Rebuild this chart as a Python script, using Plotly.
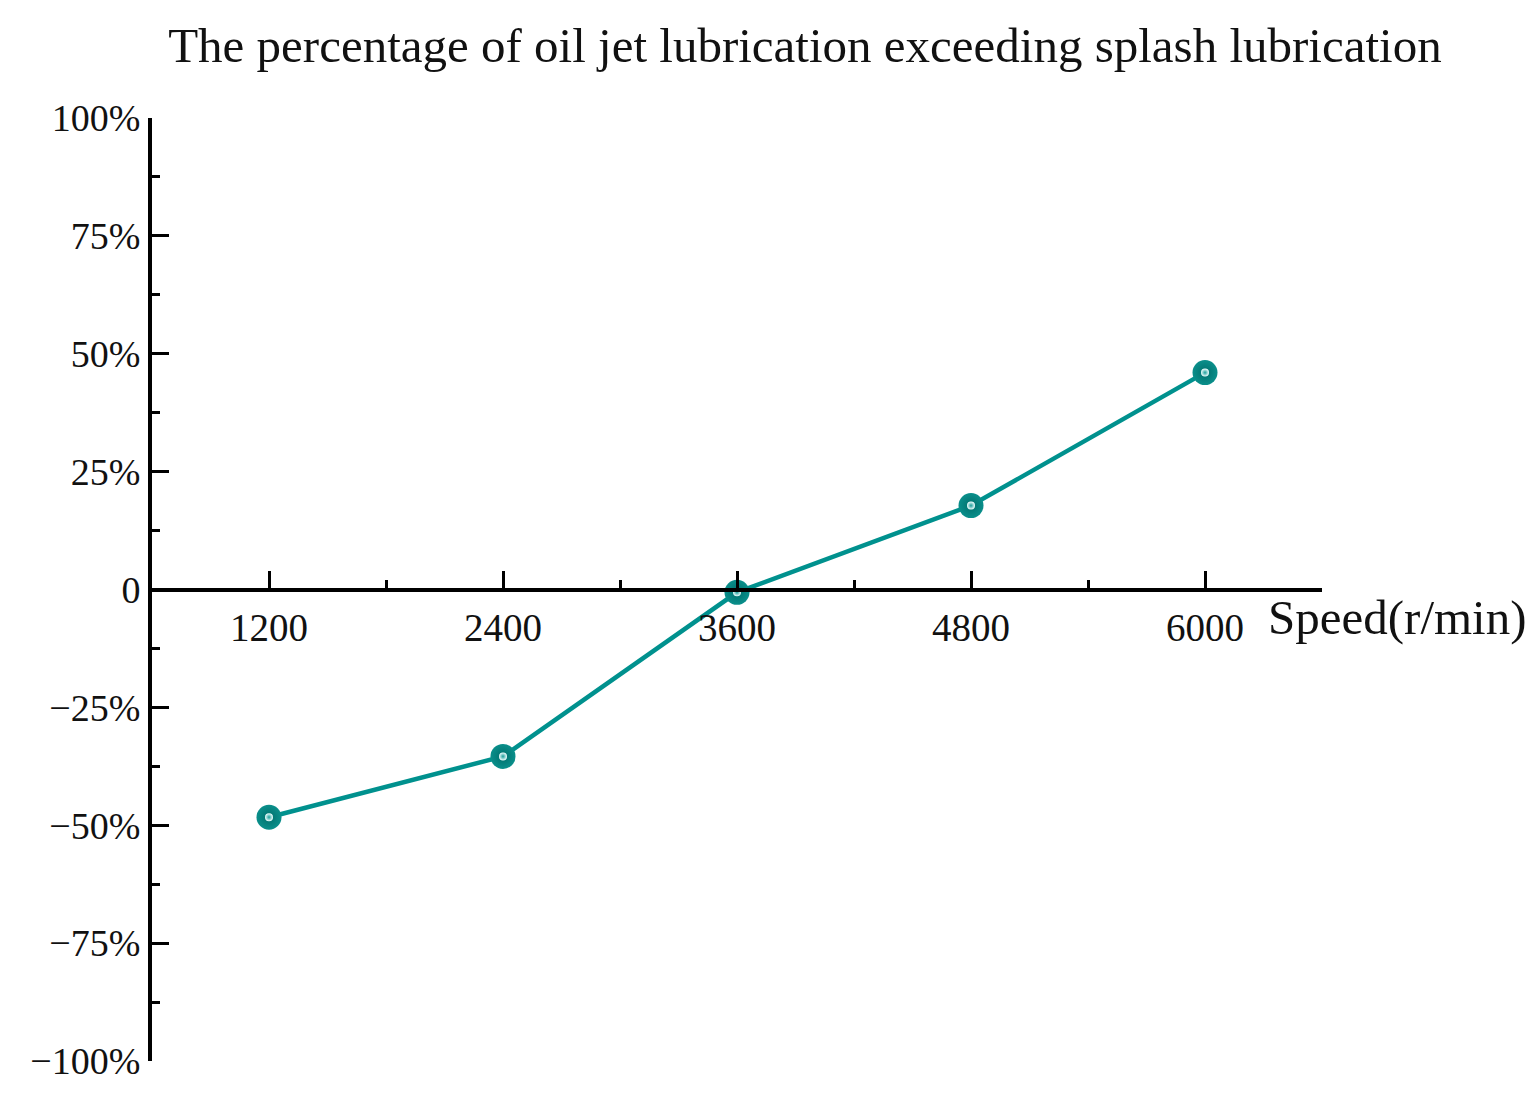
import plotly.graph_objects as go

speed = [1200, 2400, 3600, 4800, 6000]
pct = [-48.3, -35.4, -0.6, 17.8, 46.0]

x_ticks = [1200, 2400, 3600, 4800, 6000]
x_ticktext = ["1200", "2400", "3600", "4800", "6000"]
y_ticks = [100, 75, 50, 25, 0, -25, -50, -75, -100]
y_ticktext = ["100%", "75%", "50%", "25%", "0", "\u221225%", "\u221250%", "\u221275%", "\u2212100%"]

title_text = "The percentage of oil jet lubrication exceeding splash lubrication"
x_label = "Speed(r/min)"

FONT = "Liberation Serif"
TEAL = "#00918E"

fig = go.Figure()
fig.add_trace(go.Scatter(
    x=speed, y=pct, mode="lines+markers",
    line=dict(color=TEAL, width=4.5),
    marker=dict(size=25, color="#0a8f8b",
                gradient=dict(type="radial", color="#006f6c"),
                line=dict(width=0)),
    showlegend=False,
))
fig.add_trace(go.Scatter(
    x=speed, y=pct, mode="markers",
    marker=dict(size=8, color="#f2ffff",
                gradient=dict(type="radial", color="#1a9e9a"),
                line=dict(width=0)),
    showlegend=False, hoverinfo="skip",
))

fig.update_layout(
    width=1540, height=1093,
    paper_bgcolor="white", plot_bgcolor="white",
    margin=dict(l=144, r=226, t=110, b=40),
    font=dict(family=FONT, color="#111111"),
    title=dict(text=title_text, x=0.5175, xanchor="center", y=0.966, yanchor="middle",
               font=dict(family=FONT, size=49, color="#111111")),
    xaxis=dict(
        range=[600, 6600], anchor="free", position=0.5,
        tickvals=x_ticks, ticktext=x_ticktext,
        ticks="inside", ticklen=17, tickwidth=3, tickcolor="black",
        showline=True, linecolor="black", linewidth=4,
        showgrid=False, zeroline=False,
        tickfont=dict(family=FONT, size=39, color="#111111"),
        ticklabelstandoff=3,
        minor=dict(ticks="inside", ticklen=8, tickwidth=3, tickcolor="black",
                   tick0=600, dtick=1200, showgrid=False),
    ),
    yaxis=dict(
        range=[-100, 100],
        tickvals=y_ticks, ticktext=y_ticktext,
        ticks="inside", ticklen=17, tickwidth=3, tickcolor="black",
        showline=True, linecolor="black", linewidth=4,
        showgrid=False, zeroline=False,
        tickfont=dict(family=FONT, size=38, color="#111111"),
        ticklabelstandoff=0,
        minor=dict(ticks="inside", ticklen=8, tickwidth=3, tickcolor="black",
                   tick0=12.5, dtick=25, showgrid=False),
    ),
    annotations=[dict(
        text=x_label, xref="paper", yref="paper", x=1.0, y=0.5,
        xanchor="left", yanchor="top", xshift=-56, yshift=2, showarrow=False,
        font=dict(family=FONT, size=49, color="#111111"),
    )],
)

fig.write_html("out.html")
